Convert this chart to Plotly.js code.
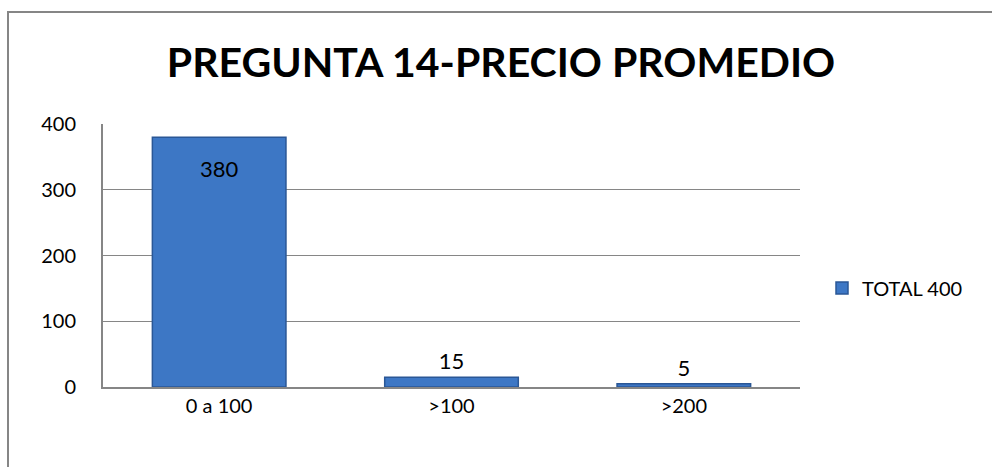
<!DOCTYPE html>
<html>
<head>
<meta charset="utf-8">
<script src="https://cdn.plot.ly/plotly-3.0.1.min.js"></script>
<style>html,body{margin:0;padding:0;background:#fff;overflow:hidden;}#chart{width:992px;height:467px;}</style>
</head>
<body>
<div id="chart"></div>
<script>
const categories = ['0 a 100', '>100', '>200'];
const values = [380, 15, 5];
const seriesName = 'TOTAL 400';
const titleText = 'PREGUNTA 14-PRECIO PROMEDIO';
const yTicks = [0, 100, 200, 300, 400];

const FONT = 'Lato, "Open Sans", sans-serif';
const L = 103, R = 800, T = 124, B = 387, W = 992, H = 467;
const px2x = x => (x - L) / (R - L);
const px2y = y => (B - y) / (B - T);
const labelFont = {family: FONT, size: 22, color: '#000'};

const trace = {
  type: 'bar',
  x: categories,
  y: values,
  name: seriesName,
  text: values.map(v => v > 100 ? '' : String(v)),
  textposition: 'outside',
  textfont: labelFont,
  outsidetextfont: labelFont,
  cliponaxis: false,
  marker: {color: '#3D77C5', line: {color: '#2A5796', width: 1.5}},
  width: 0.575,
  showlegend: true
};

// labels for tall bars sit just inside the bar top, placed via the data scales
const insideLabels = categories.map((c, i) => ({c, v: values[i]}))
  .filter(d => d.v > 100)
  .map(d => ({
    x: d.c, y: d.v, xref: 'x', yref: 'y',
    text: String(d.v), showarrow: false,
    yanchor: 'middle', yshift: -31,
    font: labelFont
  }));

const layout = {
  width: W, height: H,
  margin: {l: L, r: W - R, t: T, b: H - B, pad: 0},
  paper_bgcolor: '#fff', plot_bgcolor: '#fff',
  font: {family: FONT, size: 20, color: '#000'},
  title: {
    text: '<b>' + titleText + '</b>',
    font: {family: FONT, size: 41, color: '#000'},
    xref: 'paper', x: px2x(501), xanchor: 'center',
    yref: 'container', y: 1 - 63 / H, yanchor: 'middle'
  },
  xaxis: {
    type: 'category',
    showline: true, linecolor: '#868686', linewidth: 2,
    showgrid: false, ticks: '', ticklen: 0,
    tickfont: {family: FONT, size: 20, color: '#000'},
    fixedrange: true
  },
  yaxis: {
    range: [0, 400],
    tickvals: yTicks,
    ticktext: yTicks.map(String),
    showline: true, linecolor: '#868686', linewidth: 2,
    showgrid: true, gridcolor: '#868686', gridwidth: 1.3,
    zeroline: false, ticks: '',
    ticklabelstandoff: 21,
    tickfont: {family: FONT, size: 20, color: '#000'},
    fixedrange: true
  },
  legend: {
    x: px2x(822), xanchor: 'left',
    y: px2y(288), yanchor: 'middle',
    font: {family: FONT, size: 20, color: '#000'},
    bgcolor: 'rgba(0,0,0,0)',
    itemwidth: 30
  },
  annotations: insideLabels,
  shapes: [
    {type: 'line', xref: 'paper', yref: 'paper',
     x0: px2x(8), x1: px2x(8), y0: px2y(467), y1: px2y(12),
     line: {color: '#868686', width: 2}},
    {type: 'line', xref: 'paper', yref: 'paper',
     x0: px2x(7), x1: px2x(992), y0: px2y(12), y1: px2y(12),
     line: {color: '#868686', width: 2}}
  ]
};

Plotly.newPlot('chart', [trace], layout, {displayModeBar: false, staticPlot: true});
</script>
</body>
</html>
